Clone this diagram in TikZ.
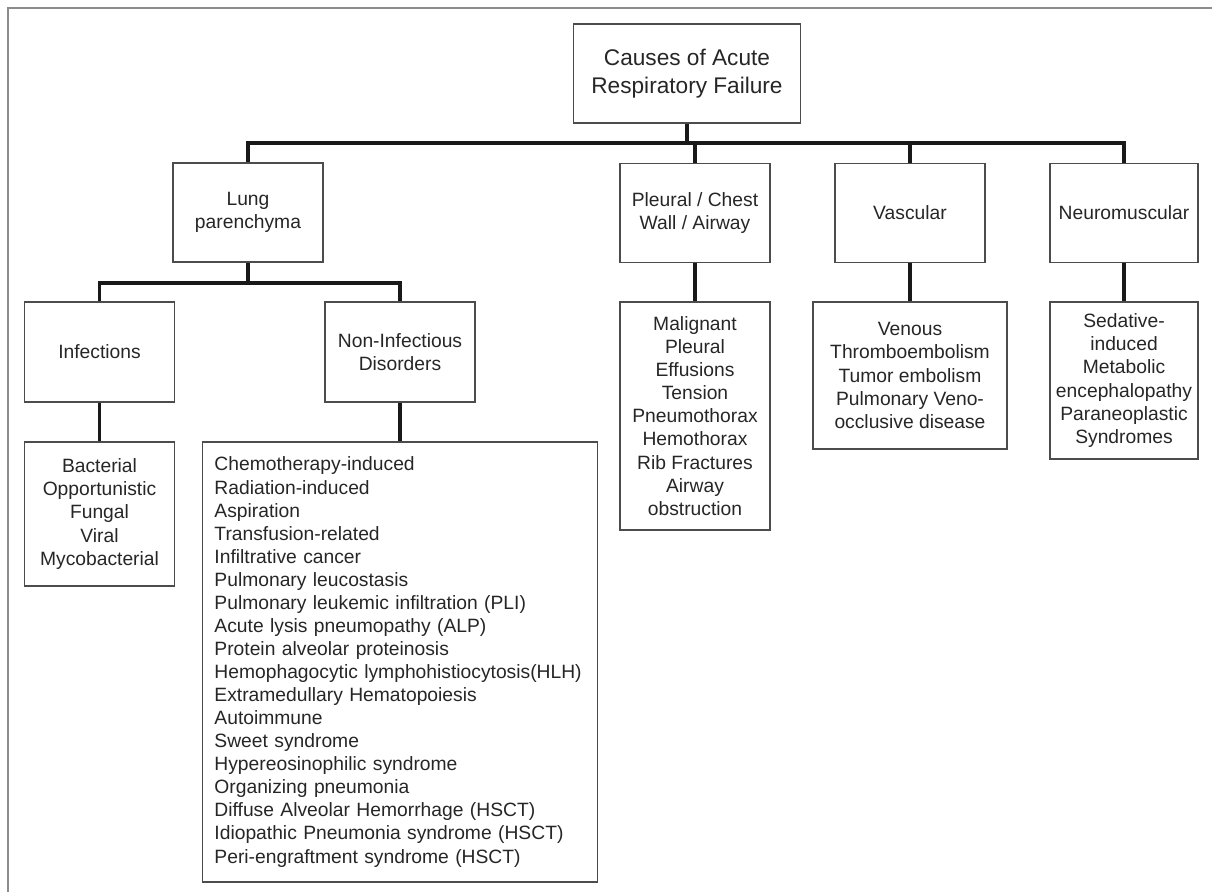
\documentclass[tikz,border=0pt]{standalone}
\usepackage{fontspec}
\setmainfont{Liberation Sans}
\usetikzlibrary{positioning}

\begin{document}
\begin{tikzpicture}[x=0.025cm,y=-0.025cm,
  box/.style={draw=black!70,line width=1.2pt,text=black!85,align=center,inner sep=0pt,
    font=\fontsize{13.7}{16.4}\selectfont,minimum width=3.75cm,minimum height=2.475cm},
  conn/.style={black!90,line width=2.6pt}]
\useasboundingbox (0,0) rectangle (1212,892);
\draw[black!45,line width=1.4pt] (8,892) -- (8,8) -- (1212,8);

\node[box,minimum width=5.675cm,font=\fontsize{16.1}{19.9}\selectfont] (root) at (687,73.5) {Causes of Acute\\Respiratory Failure};

\node[box] (lung) at (248,212.5) {Lung\\parenchyma};
\node[box] (pleural) at (695,213) {Pleural / Chest\\Wall / Airway};
\node[box] (vasc) at (910,213) {Vascular};
\node[box,minimum width=3.7cm] (neuro) at (1124,213) {Neuromuscular};

\node[box,minimum height=2.5cm] (inf) at (99.5,352) {Infections};
\node[box,minimum height=2.5cm] (noninf) at (400,352) {Non-Infectious\\Disorders};

\node[box,minimum height=3.6cm] (bact) at (99.5,514) {Bacterial\\Opportunistic\\Fungal\\Viral\\Mycobacterial};
\node[box,minimum width=9.875cm,minimum height=11cm,align=left,text width=9.275cm,inner xsep=0.3cm] (nilist) at (400,662) {Chemotherapy-induced\\Radiation-induced\\Aspiration\\Transfusion-related\\Infiltrative cancer\\Pulmonary leucostasis\\Pulmonary leukemic infiltration (PLI)\\Acute lysis pneumopathy (ALP)\\Protein alveolar proteinosis\\Hemophagocytic lymphohistiocytosis(HLH)\\Extramedullary Hematopoiesis\\Autoimmune\\Sweet syndrome\\Hypereosinophilic syndrome\\Organizing pneumonia\\Diffuse Alveolar Hemorrhage (HSCT)\\Idiopathic Pneumonia syndrome (HSCT)\\Peri-engraftment syndrome (HSCT)};
\node[box,minimum height=5.7cm] (pllist) at (695,416) {Malignant\\Pleural\\Effusions\\Tension\\Pneumothorax\\Hemothorax\\Rib Fractures\\Airway\\obstruction};
\node[box,minimum width=4.85cm,minimum height=3.675cm] (valist) at (910,375.5) {Venous\\Thromboembolism\\Tumor embolism\\Pulmonary Veno-\\occlusive disease};
\node[box,minimum width=3.7cm,minimum height=3.925cm] (nmlist) at (1124,380.5) {Sedative-\\induced\\Metabolic\\encephalopathy\\Paraneoplastic\\Syndromes};

\coordinate (bus) at (687,143);
\coordinate (lbus) at (248,283);
\draw[conn] (root) -- (bus);
\draw[conn] (bus) -| (lung);
\draw[conn] (bus) -| (pleural);
\draw[conn] (bus) -| (vasc);
\draw[conn] (bus) -| (neuro);
\draw[conn] (lung) -- (lbus);
\draw[conn] (lbus) -| (inf);
\draw[conn] (lbus) -| (noninf);
\draw[conn] (inf) -- (bact);
\draw[conn] (noninf) -- (nilist);
\draw[conn] (pleural) -- (pllist);
\draw[conn] (vasc) -- (valist);
\draw[conn] (neuro) -- (nmlist);
\end{tikzpicture}
\end{document}
